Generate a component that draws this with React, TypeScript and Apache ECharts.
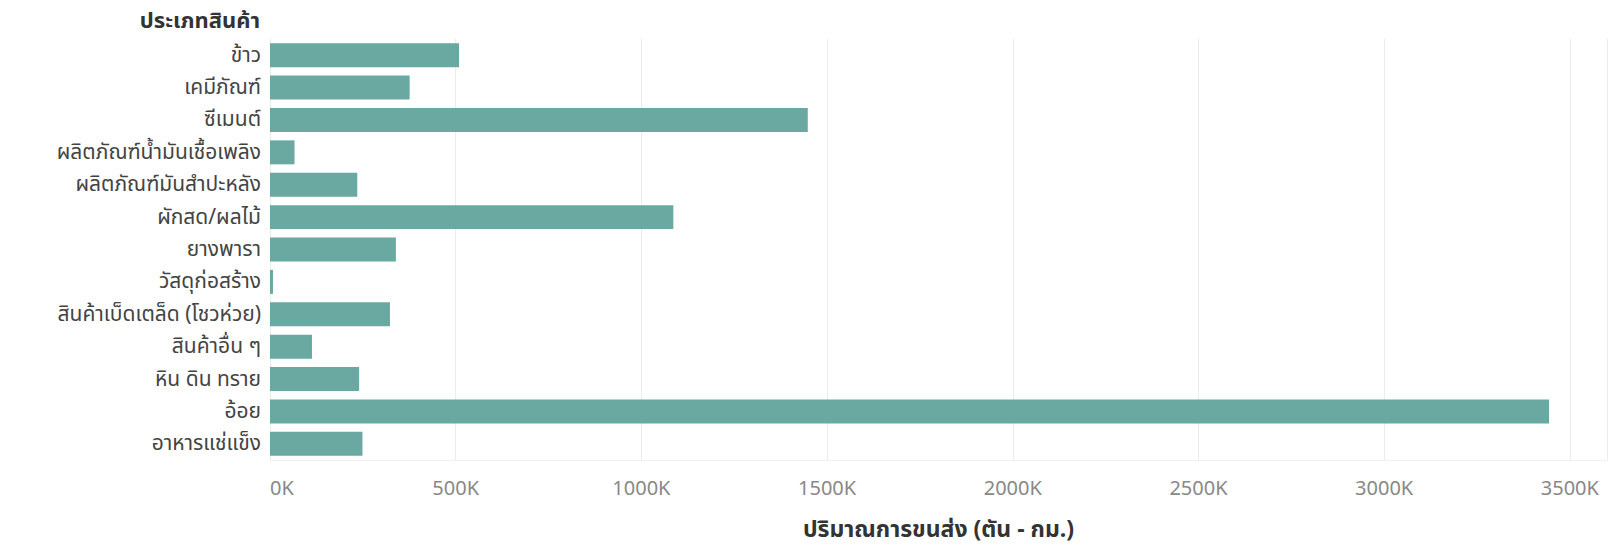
import React, { useEffect, useRef } from "react";
import * as echarts from "echarts";

const categories: string[] = [
  "ข้าว",
  "เคมีภัณฑ์",
  "ซีเมนต์",
  "ผลิตภัณฑ์น้ำมันเชื้อเพลิง",
  "ผลิตภัณฑ์มันสำปะหลัง",
  "ผักสด/ผลไม้",
  "ยางพารา",
  "วัสดุก่อสร้าง",
  "สินค้าเบ็ดเตล็ด (โชวห่วย)",
  "สินค้าอื่น ๆ",
  "หิน ดิน ทราย",
  "อ้อย",
  "อาหารแช่แข็ง",
];

const values: number[] = [
  509000, 376000, 1448000, 66000, 235000, 1086000, 339000, 8000, 323000, 113000,
  240000, 3444000, 249000,
];

const yAxisTitle = "ประเภทสินค้า";
const xAxisTitle = "ปริมาณการขนส่ง (ตัน - กม.)";

const FONT = "'Noto Sans Thai', 'Tahoma', 'Noto Sans', sans-serif";

export default function App() {
  const ref = useRef<HTMLDivElement>(null);

  useEffect(() => {
    document.body.style.margin = "0";
    if (!ref.current) return;
    const chart = echarts.init(ref.current, undefined, { renderer: "svg" });
    chart.setOption({
      animation: false,
      backgroundColor: "#ffffff",
      textStyle: { fontFamily: FONT },
      grid: { left: 270, right: 3, top: 39, bottom: 87, containLabel: false },
      graphic: [
        {
          type: "text",
          right: 1610 - 260,
          top: 8,
          style: {
            text: yAxisTitle,
            fontSize: 22,
            lineHeight: 26,
            fontWeight: "bold",
            fill: "#333333",
            fontFamily: FONT,
            textAlign: "right",
          },
        },
      ],
      xAxis: {
        type: "value",
        min: 0,
        max: 3600000,
        interval: 500000,
        name: xAxisTitle,
        nameLocation: "middle",
        nameGap: 58,
        nameTextStyle: { fontSize: 23, fontWeight: "bold", color: "#333333", fontFamily: FONT },
        axisLine: { show: true, lineStyle: { color: "#f0f0f0" } },
        axisTick: { show: false },
        axisLabel: {
          fontSize: 20,
          color: "#888888",
          margin: 19,
          showMaxLabel: false,
          alignMinLabel: "left",
          formatter: (v: number) => (v % 500000 === 0 ? `${v / 1000}K` : ""),
        },
        splitLine: { show: true, lineStyle: { color: "#ececec", width: 1 } },
      },
      yAxis: {
        type: "category",
        data: categories,
        inverse: true,
        axisLine: { show: false },
        axisTick: { show: false },
        axisLabel: { fontSize: 21, lineHeight: 26, color: "#444444", margin: 9 },
        splitLine: { show: false },
      },
      series: [
        {
          type: "bar",
          data: values,
          barCategoryGap: "26%",
          itemStyle: { color: "#6aa8a2" },
        },
      ],
    });
    return () => chart.dispose();
  }, []);

  return <div ref={ref} style={{ width: 1610, height: 547 }} />;
}
